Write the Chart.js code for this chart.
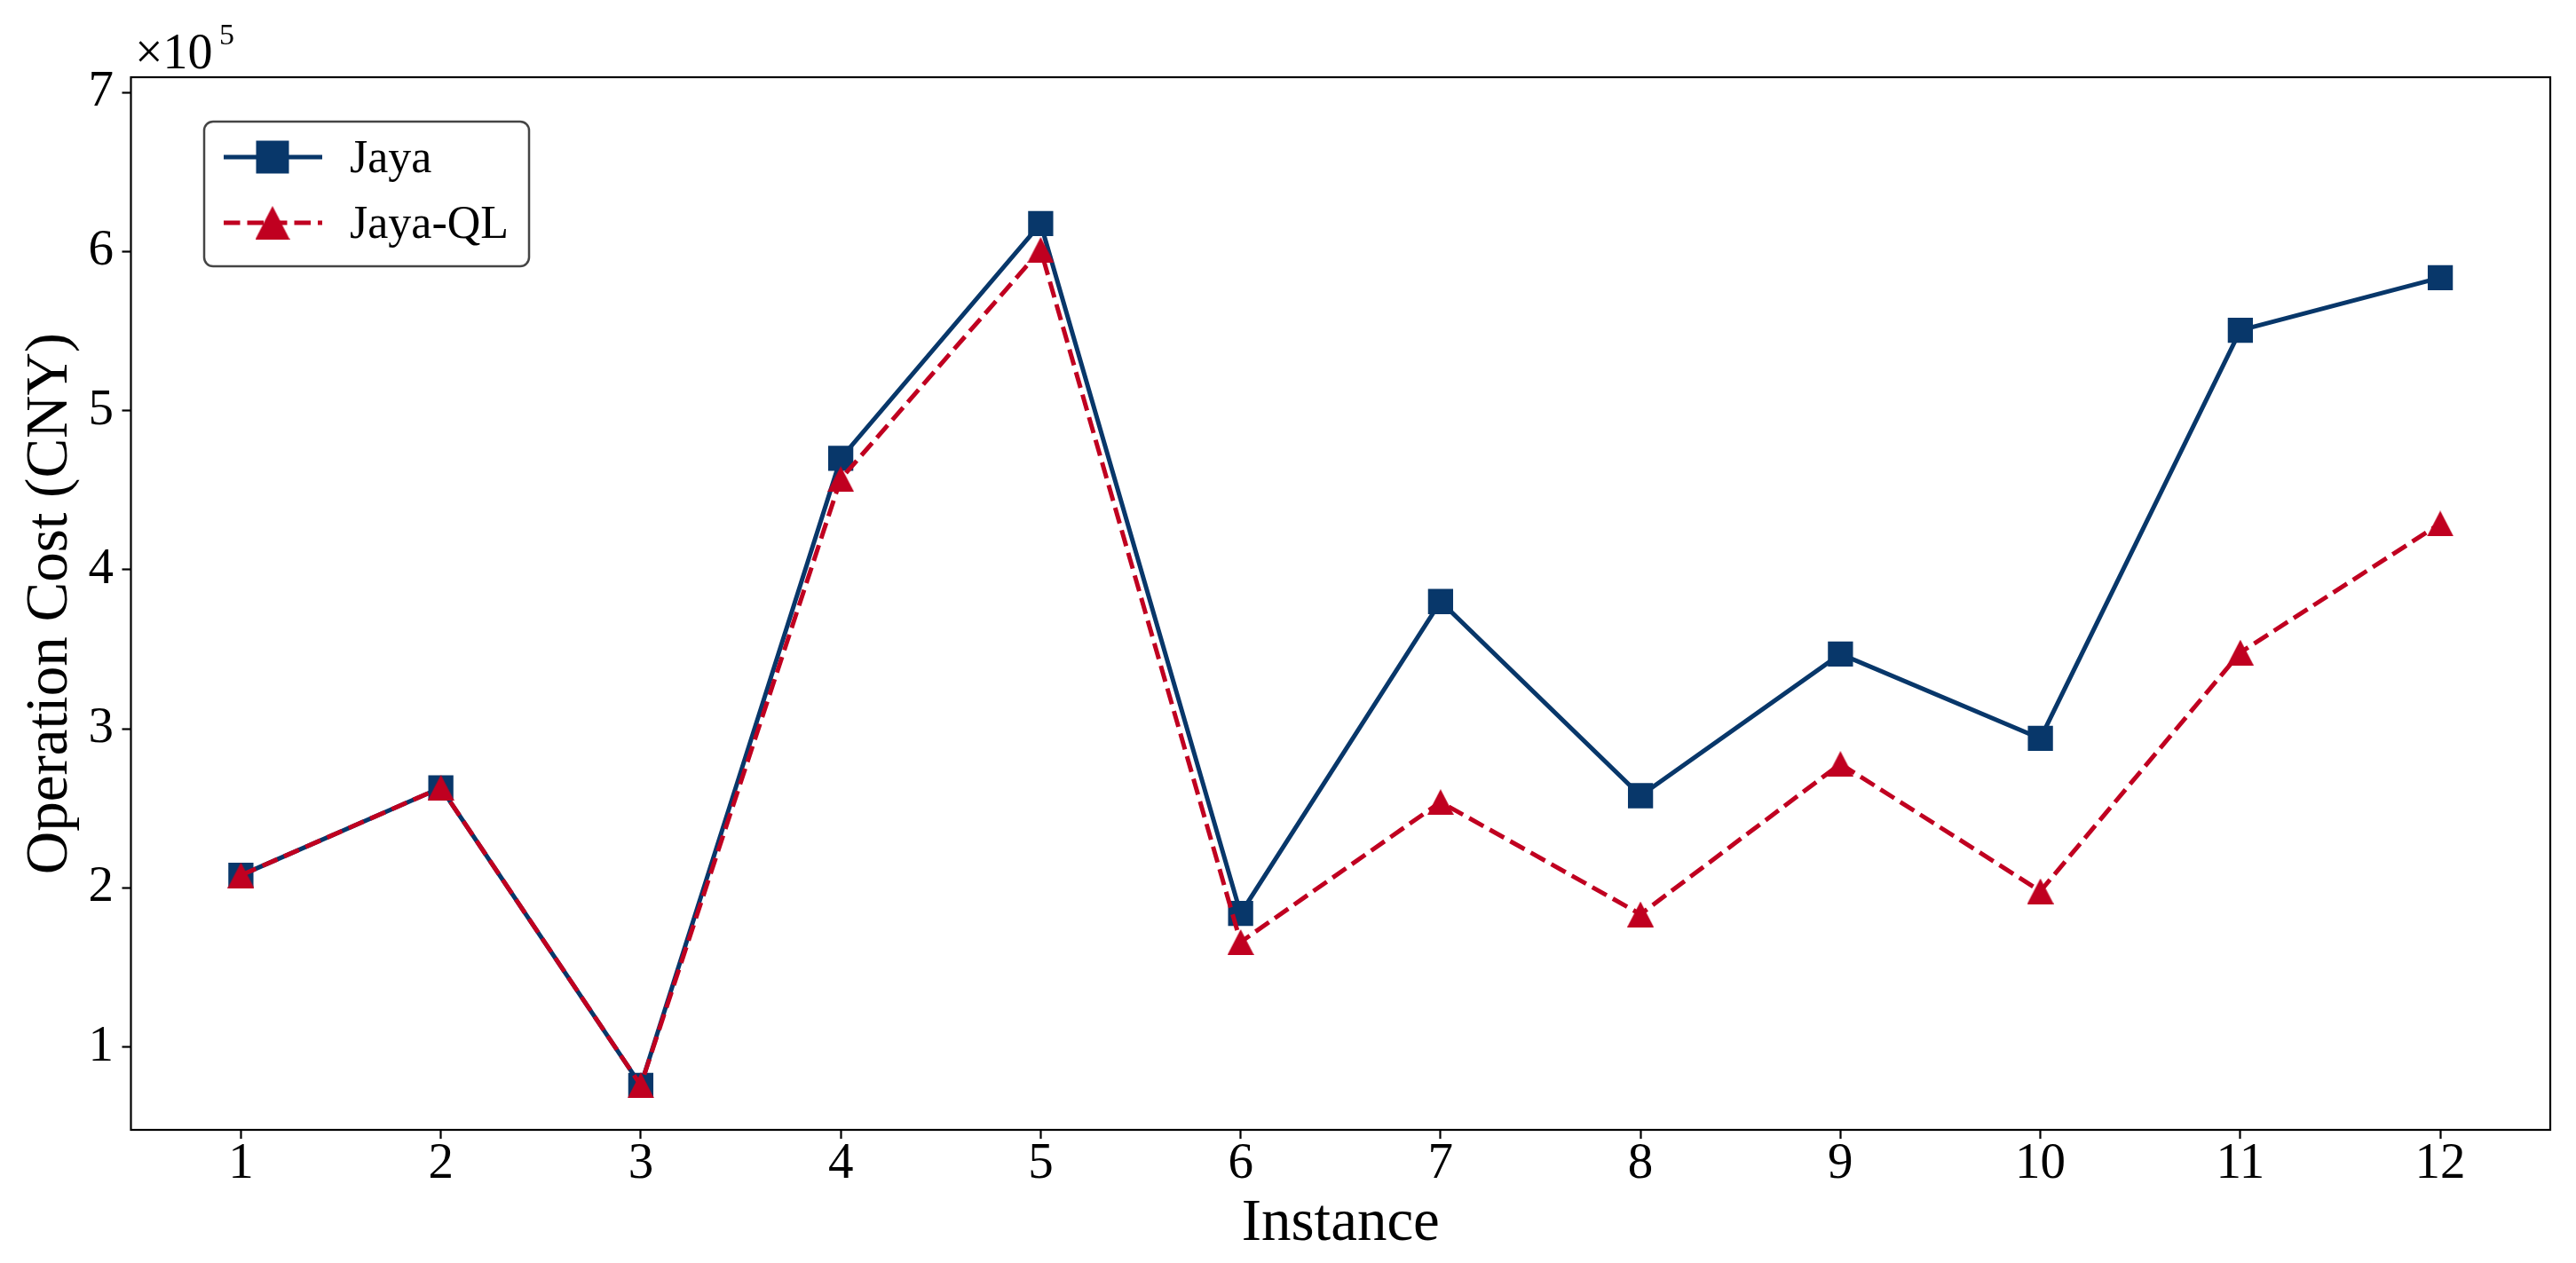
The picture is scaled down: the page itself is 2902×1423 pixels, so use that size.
<!DOCTYPE html>
<html>
<head>
<meta charset="utf-8">
<script src="https://cdn.jsdelivr.net/npm/chart.js@4.4.1/dist/chart.umd.min.js"></script>
<style>
	html, body { margin: 0; padding: 0; background: #fff; }
	#wrap { width: 2902px; height: 1423px; }
</style>
</head>
<body>
<div id="wrap"><canvas id="cost-chart"></canvas></div>
<script>
const instances = [1, 2, 3, 4, 5, 6, 7, 8, 9, 10, 11, 12];
const jayaCost = [208000, 263000, 76000, 470000, 617500, 184000, 380000, 258000, 347000, 294000, 550500, 583500];
const jayaQlCost = [208000, 263000, 76000, 457000, 601000, 166000, 254000, 183500, 278000, 198000, 348000, 429000];
const yTicks = [100000, 200000, 300000, 400000, 500000, 600000, 700000];

const serif = '"Liberation Serif", "Times New Roman", serif';
const navy = 'rgb(8, 55, 106)';
const red = 'rgb(192, 0, 32)';

// triangle marker as image so it is centred on its box like matplotlib '^'
function triangleMarker(w, h, color) {
	const c = document.createElement('canvas');
	c.width = w;
	c.height = h;
	const g = c.getContext('2d');
	g.fillStyle = color;
	g.beginPath();
	g.moveTo(w / 2, 0);
	g.lineTo(w, h);
	g.lineTo(0, h);
	g.closePath();
	g.fill();
	return c;
}

function toPoints(values) {
	return instances.map((inst, i) => ({ x: inst, y: values[i] }));
}

const framePlugin = {
	id: 'frameAndLegend',
	afterDraw(chart) {
		const { ctx, chartArea } = chart;
		ctx.save();
		ctx.strokeStyle = '#000';
		ctx.lineWidth = 2.2;
		ctx.strokeRect(chartArea.left, chartArea.top,
			chartArea.right - chartArea.left, chartArea.bottom - chartArea.top);

		// offset text above the y axis
		ctx.fillStyle = '#000';
		ctx.textBaseline = 'alphabetic';
		ctx.textAlign = 'left';
		ctx.font = '56px ' + serif;
		ctx.fillText('\u00d710', 152, 77);
		ctx.font = '34px ' + serif;
		ctx.fillText('5', 247, 50);

		// legend box
		ctx.beginPath();
		ctx.roundRect(230, 137, 366, 163, 10);
		ctx.fillStyle = 'rgba(255,255,255,0.8)';
		ctx.fill();
		ctx.strokeStyle = '#454545';
		ctx.lineWidth = 2.5;
		ctx.stroke();

		const entries = [
			{ label: 'Jaya', color: navy, dash: [], y: 177, marker: 'square' },
			{ label: 'Jaya-QL', color: red, dash: [18.5, 8], y: 251, marker: 'triangle' },
		];
		for (const e of entries) {
			ctx.strokeStyle = e.color;
			ctx.lineWidth = 5;
			ctx.setLineDash(e.dash);
			ctx.beginPath();
			ctx.moveTo(252, e.y);
			ctx.lineTo(363, e.y);
			ctx.stroke();
			ctx.setLineDash([]);
			ctx.fillStyle = e.color;
			if (e.marker === 'square') {
				ctx.fillRect(307 - 18.5, e.y - 18.5, 37, 37);
			} else {
				ctx.drawImage(triangleMarker(39, 38, e.color), 307 - 19.5, e.y - 19);
			}
			ctx.fillStyle = '#000';
			ctx.font = '52px ' + serif;
			ctx.fillText(e.label, 394, e.y + 17);
		}
		ctx.restore();
	},
};

const tickGrid = {
	drawOnChartArea: false,
	drawTicks: true,
	tickLength: 10,
	tickWidth: 2.2,
	tickColor: '#000',
};

new Chart(document.getElementById('cost-chart'), {
	type: 'line',
	data: {
		datasets: [
			{
				label: 'Jaya',
				data: toPoints(jayaCost),
				borderColor: navy,
				backgroundColor: navy,
				borderWidth: 5,
				pointStyle: 'rect',
				pointRadius: 20,
				pointBorderWidth: 0,
				pointBackgroundColor: navy,
				tension: 0,
				order: 1,
			},
			{
				label: 'Jaya-QL',
				data: toPoints(jayaQlCost),
				borderColor: red,
				backgroundColor: red,
				borderWidth: 5,
				borderDash: [18.5, 8],
				pointStyle: triangleMarker(30, 29, red),
				pointRadius: 16,
				pointBorderWidth: 0,
				tension: 0,
				order: 0,
			},
		],
	},
	options: {
		responsive: true,
		maintainAspectRatio: false,
		devicePixelRatio: 1,
		animation: false,
		layout: { padding: { top: 87, right: 29, left: 0, bottom: 0 } },
		plugins: {
			legend: { display: false },
			tooltip: { enabled: false },
		},
		scales: {
			x: {
				type: 'linear',
				min: 0.45,
				max: 12.55,
				afterBuildTicks: (scale) => {
					scale.ticks = instances.map((v) => ({ value: v }));
				},
				afterFit: (scale) => {
					scale.height = 150;
				},
				ticks: {
					color: '#000',
					font: { family: serif, size: 57, lineHeight: 1 },
					padding: 1,
					maxRotation: 0,
					autoSkip: false,
				},
				grid: tickGrid,
				border: { display: false },
				title: {
					display: true,
					text: 'Instance',
					color: '#000',
					font: { family: serif, size: 67, lineHeight: 1.2 },
					padding: { top: 0, bottom: 3 },
				},
			},
			y: {
				type: 'linear',
				min: 48000,
				max: 709500,
				afterBuildTicks: (scale) => {
					scale.ticks = yTicks.map((v) => ({ value: v }));
				},
				afterFit: (scale) => {
					scale.width = 147.5;
				},
				ticks: {
					color: '#000',
					font: { family: serif, size: 57 },
					padding: 9.5,
					callback: (value) => value / 100000,
				},
				grid: tickGrid,
				border: { display: false },
				title: {
					display: true,
					text: 'Operation Cost (CNY)',
					color: '#000',
					font: { family: serif, size: 67, lineHeight: 1.2 },
					padding: { top: 17, bottom: 0 },
				},
			},
		},
	},
	plugins: [framePlugin],
});
</script>
</body>
</html>
